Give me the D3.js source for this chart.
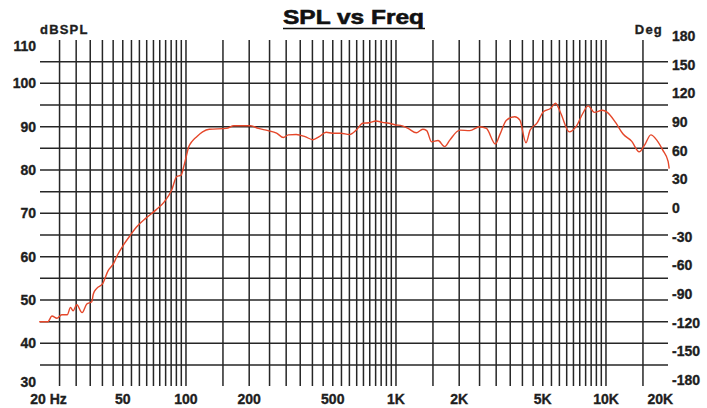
<!DOCTYPE html>
<html>
<head>
<meta charset="utf-8">
<script src="https://cdn.jsdelivr.net/npm/d3@7"></script>
<style>
body { margin: 0; background: #fff; }
svg { display: block; font-family: "Liberation Sans", Arial, sans-serif; font-weight: bold; }
</style>
</head>
<body>
<div id="chart"></div>
<script>
const freqs = [20, 22, 23, 24.3, 25.6, 27.2, 28.2, 29, 30.2, 32, 33.7, 35.6, 36.2, 37.6, 40, 42.6, 45.3, 47.2, 50.4, 54.4,
	58, 64.5, 72, 79, 85.5, 90.4, 94.8, 97.6, 99.4, 103.2, 106.4, 112.5, 120, 129, 156, 169, 203, 221, 246, 270, 291,
	307, 335, 369, 402, 431, 465, 498, 546, 600, 646, 694, 745, 803, 862, 926, 995, 1050, 1142, 1250, 1342,
	1400, 1477, 1586, 1706, 1804, 2013, 2245, 2504, 2695, 2976, 3119, 3357, 3679, 3890, 4160, 4351, 4690, 5050, 5440, 5756,
	6090, 6687, 7203, 7763, 8222, 8810, 9583, 10150, 11170, 12060, 13270, 14380, 15290, 16350, 17450, 18640, 19760, 20000];
const spl = [45.0, 45.0, 46.3, 45.8, 46.6, 46.6, 48.3, 47.5, 48.9, 47.1, 49.1, 49.6, 51.4, 52.7, 53.7, 56.8, 58.5, 60.4, 62.7, 65.0,
	66.8, 68.9, 70.8, 72.7, 75.4, 78.5, 78.8, 80.8, 82.3, 85.4, 86.5, 87.7, 88.8, 89.4, 89.6, 90.2, 90.2, 89.6, 89.1, 88.5, 87.5,
	88.1, 88.2, 87.7, 87.0, 87.7, 88.7, 88.5, 88.5, 88.2, 89.2, 90.8, 90.9, 91.3, 91.0, 90.8, 90.4, 90.3, 89.6, 88.6, 89.4,
	89.1, 86.5, 86.8, 85.4, 86.9, 89.2, 89.1, 90.0, 89.6, 86.0, 88.1, 91.5, 92.3, 91.5, 86.3, 89.2, 90.8, 93.5, 94.2, 95.4,
	93.1, 88.8, 90.0, 93.1, 94.8, 93.3, 93.8, 93.3, 90.8, 88.3, 86.6, 84.2, 85.8, 88.1, 86.9, 84.6, 82.0, 80.3];

const splTicks = [30, 40, 50, 60, 70, 80, 90, 100, 110];
const degTicks = [-180, -150, -120, -90, -60, -30, 0, 30, 60, 90, 120, 150, 180];
const freqTickValues = [20, 50, 100, 200, 500, 1000, 2000, 5000, 10000, 20000];
const freqTickLabels = ["20 Hz", "50", "100", "200", "500", "1K", "2K", "5K", "10K", "20K"];

// grid lines (every 5 Hz in first decade, then 1.5x..10x steps per decade)
const gridFreqs = [...d3.range(25, 101, 5), ...d3.range(150, 1001, 50), ...d3.range(1500, 10001, 500), 15000];
const gridSpl = d3.range(35, 106, 5);

const width = 707, height = 408;

const svg = d3.select("#chart")
	.append("svg")
	.attr("width", width)
	.attr("height", height);

let x = d3.scaleLog().domain([20, 20000]).range([39.2, 669.2]);
let y = d3.scaleLinear().domain([30, 110]).range([386.7, 40]);
let yDeg = d3.scaleLinear().domain([-180, 180]).range([380, 36]);

// grid
svg.append("g")
	.selectAll("line")
	.data(gridFreqs)
	.join("line")
	.attr("x1", d => x(d)).attr("x2", d => x(d))
	.attr("y1", 40).attr("y2", 386)
	.attr("stroke", "#262626")
	.attr("stroke-width", 1.5);

svg.append("g")
	.selectAll("line")
	.data(gridSpl)
	.join("line")
	.attr("x1", 40).attr("x2", 668)
	.attr("y1", d => y(d)).attr("y2", d => y(d))
	.attr("stroke", "#262626")
	.attr("stroke-width", 1.5);

// labels get a thin stroke so they look as heavy as the original
function heavy(sel) {
	sel.attr("fill", "#1e1e1e")
		.attr("stroke", "#1e1e1e")
		.attr("stroke-width", 0.35);
}

// left axis labels
svg.append("g")
	.selectAll("text")
	.data(splTicks)
	.join("text")
	.attr("x", 36)
	.attr("y", d => y(d) + (d === 110 ? 6 : d === 30 ? -5 : 0))
	.attr("dy", "0.36em")
	.attr("text-anchor", "end")
	.attr("font-size", 14)
	.call(heavy)
	.text(d => d);

// right axis labels
svg.append("g")
	.selectAll("text")
	.data(degTicks)
	.join("text")
	.attr("x", 672)
	.attr("y", d => yDeg(d))
	.attr("dy", "0.36em")
	.attr("font-size", 14)
	.call(heavy)
	.text(d => d);

// bottom labels
svg.append("g")
	.selectAll("text")
	.data(freqTickValues)
	.join("text")
	.attr("x", (d, i) => i === 0 ? x(d) - 9 : i === freqTickValues.length - 1 ? x(d) + 4 : x(d))
	.attr("y", 404)
	.attr("text-anchor", (d, i) => i === 0 ? "start" : i === freqTickValues.length - 1 ? "end" : "middle")
	.attr("font-size", 14)
	.call(heavy)
	.text((d, i) => freqTickLabels[i]);

// axis titles
svg.append("text")
	.attr("x", 40).attr("y", 34)
	.attr("font-size", 13)
	.attr("letter-spacing", 1.2)
	.call(heavy)
	.text("dBSPL");

svg.append("text")
	.attr("x", 663).attr("y", 34)
	.attr("text-anchor", "end")
	.attr("font-size", 13)
	.attr("letter-spacing", 1.2)
	.call(heavy)
	.text("Deg");

// title, underlined
svg.append("text")
	.attr("x", 283).attr("y", 23.5)
	.attr("font-size", 21)
	.attr("textLength", 141)
	.attr("lengthAdjust", "spacingAndGlyphs")
	.attr("fill", "#111")
	.attr("stroke", "#111")
	.attr("stroke-width", 0.6)
	.text("SPL vs Freq");

svg.append("line")
	.attr("x1", 283).attr("x2", 425)
	.attr("y1", 28.5).attr("y2", 28.5)
	.attr("stroke", "#111")
	.attr("stroke-width", 1.5);

// response curve
let line = d3.line()
	.x(d => x(d[0]))
	.y(d => y(d[1]))
	.curve(d3.curveMonotoneX);

svg.append("path")
	.datum(d3.zip(freqs, spl))
	.attr("d", line)
	.attr("fill", "none")
	.attr("stroke", "#e5472a")
	.attr("stroke-width", 1.4);
</script>
</body>
</html>
